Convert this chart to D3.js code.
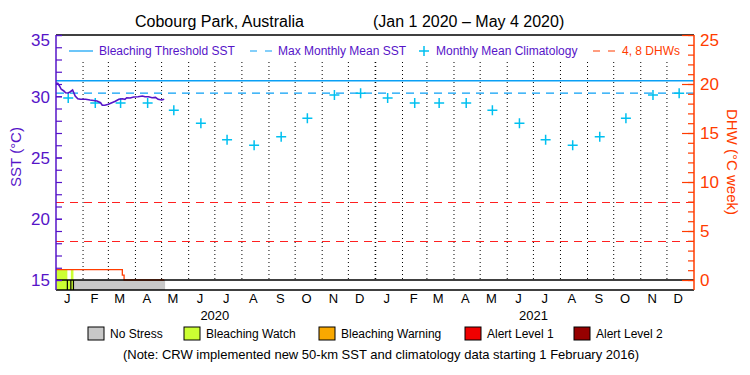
<!DOCTYPE html>
<html>
<head>
<meta charset="utf-8">
<script src="https://cdn.jsdelivr.net/npm/d3@7"></script>
<style>
  body { margin: 0; background: #fff; }
  svg { display: block; font-family: "Liberation Sans", Arial, sans-serif; }
</style>
</head>
<body>
<div id="chart"></div>
<script>
// --------------------------------------
//  Data
// --------------------------------------

const sstDates = ["2020-01-01","2020-01-03","2020-01-05","2020-01-07","2020-01-10","2020-01-12",
  "2020-01-15","2020-01-17","2020-01-20","2020-01-21","2020-01-23","2020-01-26","2020-01-29",
  "2020-02-04","2020-02-09","2020-02-17","2020-02-21","2020-02-23","2020-02-26","2020-03-01",
  "2020-03-05","2020-03-09","2020-03-13","2020-03-17","2020-03-20","2020-03-22","2020-03-26",
  "2020-03-30","2020-04-04","2020-04-09","2020-04-12","2020-04-16","2020-04-20","2020-04-24",
  "2020-04-27","2020-05-01","2020-05-04"];
const sstValues = [31.06,31.06,30.84,30.57,30.43,30.29,30.27,30.35,30.51,30.35,30.02,29.80,29.75,
  29.75,29.69,29.61,29.47,29.26,29.26,29.34,29.47,29.59,29.75,29.80,29.75,29.88,29.86,
  29.94,29.96,30.02,29.96,29.96,29.88,29.91,29.75,29.69,29.75];

const monthLetters = ["J","F","M","A","M","J","J","A","S","O","N","D"];
const climValues = [29.85,29.45,29.45,29.45,28.85,27.80,26.45,26.00,26.70,28.20,30.10,30.25];
const years = [2020, 2021];

const mmm = 30.26;
const bleachingThreshold = 31.26;
const dhwLevels = [4, 8];

const dhwDates = ["2020-01-01","2020-03-17","2020-03-19","2020-05-04"];
const dhwValues = [1.05, 0.5, 0, 0];

const stressStart = ["2020-01-01","2020-01-14","2020-01-18","2020-01-21"];
const stressEnd   = ["2020-01-14","2020-01-18","2020-01-21","2020-05-05"];
const stressLevel = [1, 1, 1, 0];
const hotSpot     = [true, false, true, false];

const stressNames  = ["No Stress","Bleaching Watch","Bleaching Warning","Alert Level 1","Alert Level 2"];
const stressColors = ["#c8c8c8","#ccff33","#f9a800","#f00000","#960000"];

const sstTicks = [15, 20, 25, 30, 35];
const dhwTicks = [0, 5, 10, 15, 20, 25];

// --------------------------------------
//  Canvas
// --------------------------------------

const width = 750, height = 375;
const pLeft = 56, pRight = 694, pTop = 35, pBottom = 280, stripBottom = 290;

const purple = "#5614c8", red = "#ff3c00", blue = "#0aa0f5", cyan = "#00c0f0";

const svg = d3.select("#chart")
  .append("svg")
    .attr("width", width)
    .attr("height", height);

const parse = d3.timeParse("%Y-%m-%d");

// --------------------------------------
//  Scales
// --------------------------------------

const x = d3.scaleTime()
  .domain([new Date(2020, 0, 1), new Date(2022, 0, 1)])
  .range([pLeft, pRight]);

const y = d3.scaleLinear().domain([15, 35]).range([pBottom, pTop]);
const yDhw = d3.scaleLinear().domain([0, 25]).range([pBottom, pTop]);

// --------------------------------------
//  Title
// --------------------------------------

svg.append("text").attr("x", 135).attr("y", 27)
  .style("font-size", "16px").text("Cobourg Park, Australia");
svg.append("text").attr("x", 373).attr("y", 27)
  .style("font-size", "16px").text("(Jan 1 2020 – May 4 2020)");

// --------------------------------------
//  Month grid
// --------------------------------------

const monthStarts = d3.timeMonth.range(new Date(2020, 1, 1), new Date(2022, 0, 1));

svg.append("g")
  .selectAll("line")
  .data(monthStarts)
  .join("line")
    .attr("x1", d => x(d)).attr("x2", d => x(d))
    .attr("y1", 62).attr("y2", pBottom)
    .attr("stroke", "#000")
    .attr("stroke-width", d => d.getMonth() === 0 ? 1.6 : 1)
    .attr("stroke-dasharray", "1,3");

// --------------------------------------
//  Reference lines
// --------------------------------------

svg.append("line")
  .attr("x1", pLeft).attr("x2", pRight)
  .attr("y1", y(bleachingThreshold)).attr("y2", y(bleachingThreshold))
  .attr("stroke", blue).attr("stroke-width", 1.5);

svg.append("line")
  .attr("x1", pLeft).attr("x2", pRight)
  .attr("y1", y(mmm)).attr("y2", y(mmm))
  .attr("stroke", blue).attr("stroke-width", 1.3)
  .attr("stroke-dasharray", "8,6");

svg.append("g")
  .selectAll("line")
  .data(dhwLevels)
  .join("line")
    .attr("x1", pLeft).attr("x2", pRight)
    .attr("y1", d => Math.round(yDhw(d)) + 0.5).attr("y2", d => Math.round(yDhw(d)) + 0.5)
    .attr("stroke", "#ff2020").attr("stroke-width", 1.2)
    .attr("stroke-dasharray", "8,6");

// --------------------------------------
//  Climatology
// --------------------------------------

const clim = years.flatMap(yr => climValues.map((v, i) => ({date: new Date(yr, i, 15), v})));

svg.append("g")
  .selectAll("path")
  .data(clim)
  .join("path")
    .attr("transform", d => `translate(${x(d.date)},${y(d.v)})`)
    .attr("d", "M-5,0H5M0,-5V5")
    .attr("stroke", cyan).attr("stroke-width", 1.5);

// --------------------------------------
//  Stress strip
// --------------------------------------

const stress = stressStart.map((s, i) => ({
  start: parse(s), end: parse(stressEnd[i]), level: stressLevel[i], hot: hotSpot[i]
}));

svg.append("g")
  .selectAll("rect")
  .data(stress)
  .join("rect")
    .attr("x", d => x(d.start))
    .attr("width", d => x(d.end) - x(d.start))
    .attr("y", d => d.hot ? yDhw(1.05) : pBottom)
    .attr("height", d => stripBottom - (d.hot ? yDhw(1.05) : pBottom))
    .attr("fill", d => stressColors[d.level]);

svg.append("g")
  .selectAll("line")
  .data(stress.slice(1))
  .join("line")
    .attr("x1", d => x(d.start)).attr("x2", d => x(d.start))
    .attr("y1", pBottom).attr("y2", stripBottom)
    .attr("stroke", "#000").attr("stroke-width", 1.2);

// --------------------------------------
//  DHW and SST lines
// --------------------------------------

const dhw = dhwDates.map((d, i) => ({date: parse(d), v: dhwValues[i]}));

svg.append("path")
  .datum(dhw)
  .attr("fill", "none")
  .attr("stroke", red).attr("stroke-width", 1.3)
  .attr("d", d3.line().curve(d3.curveStepAfter).x(d => x(d.date)).y(d => yDhw(d.v)));

const sst = sstDates.map((d, i) => ({date: parse(d), v: sstValues[i]}));

svg.append("path")
  .datum(sst)
  .attr("fill", "none")
  .attr("stroke", purple).attr("stroke-width", 1.6)
  .attr("d", d3.line().x(d => x(d.date)).y(d => y(d.v)));

// --------------------------------------
//  Frame
// --------------------------------------

[pTop, pBottom, stripBottom].forEach(yy =>
  svg.append("line").attr("x1", pLeft).attr("x2", pRight)
    .attr("y1", yy).attr("y2", yy).attr("stroke", "#000").attr("stroke-width", 1.6));

svg.append("line").attr("x1", pLeft).attr("x2", pLeft)
  .attr("y1", pTop).attr("y2", stripBottom).attr("stroke", purple).attr("stroke-width", 1.5);
svg.append("line").attr("x1", pRight).attr("x2", pRight)
  .attr("y1", pTop).attr("y2", stripBottom).attr("stroke", red).attr("stroke-width", 1.5);

// --------------------------------------
//  Axes
// --------------------------------------

const leftMinor = svg.append("g").attr("transform", `translate(${pLeft},0)`)
  .call(d3.axisLeft(y).tickValues(d3.range(15, 36)).tickSize(-6).tickSizeOuter(0).tickFormat(""));
const leftMajor = svg.append("g").attr("transform", `translate(${pLeft},0)`)
  .call(d3.axisLeft(y).tickValues(sstTicks).tickSize(-6).tickSizeOuter(0).tickPadding(6));

const rightMinor = svg.append("g").attr("transform", `translate(${pRight},0)`)
  .call(d3.axisRight(yDhw).tickValues(d3.range(0, 26)).tickSize(-6).tickSizeOuter(0).tickFormat(""));
const rightMajor = svg.append("g").attr("transform", `translate(${pRight},0)`)
  .call(d3.axisRight(yDhw).tickValues(dhwTicks).tickSize(-12).tickSizeOuter(0).tickPadding(6));

[leftMinor, leftMajor].forEach(g => {
  g.select(".domain").remove();
  g.selectAll("line").attr("stroke", purple).attr("stroke-width", 1.2);
});
[rightMinor, rightMajor].forEach(g => {
  g.select(".domain").remove();
  g.selectAll("line").attr("stroke", red).attr("stroke-width", 1.2);
});

leftMajor.selectAll("text")
  .attr("fill", purple).style("font-size", "17px").style("font-family", "inherit")
  .attr("dy", d => d === 35 ? "0.62em" : "0.35em");
rightMajor.selectAll("text")
  .attr("fill", red).style("font-size", "17px").style("font-family", "inherit")
  .attr("dy", d => d === 25 ? "0.62em" : "0.35em");

svg.append("text")
  .attr("transform", `translate(21,157) rotate(-90)`)
  .attr("text-anchor", "middle")
  .attr("fill", purple).style("font-size", "15px")
  .text("SST (°C)");

svg.append("text")
  .attr("transform", `translate(727,162) rotate(90)`)
  .attr("text-anchor", "middle")
  .attr("fill", red).style("font-size", "15px")
  .text("DHW (°C week)");

// month and year labels
const monthMids = years.flatMap(yr => monthLetters.map((m, i) => ({date: new Date(yr, i, 14), m})));

svg.append("g")
  .selectAll("text")
  .data(monthMids)
  .join("text")
    .attr("x", d => x(d.date)).attr("y", 303)
    .attr("text-anchor", "middle")
    .style("font-size", "13px")
    .text(d => d.m);

svg.append("g")
  .selectAll("text")
  .data(years)
  .join("text")
    .attr("x", d => x(new Date(d, 6, 1))).attr("y", 320)
    .attr("text-anchor", "middle")
    .style("font-size", "13px")
    .text(d => d);

// --------------------------------------
//  Top legend
// --------------------------------------

const lg = svg.append("g").style("font-size", "12px");
const ly = 51;

lg.append("line").attr("x1", 69).attr("x2", 93).attr("y1", ly).attr("y2", ly)
  .attr("stroke", blue).attr("stroke-width", 1.2);
lg.append("text").attr("x", 99).attr("y", ly + 4).attr("fill", purple).text("Bleaching Threshold SST");

lg.append("line").attr("x1", 250).attr("x2", 272).attr("y1", ly).attr("y2", ly)
  .attr("stroke", blue).attr("stroke-width", 1.2).attr("stroke-dasharray", "7,8");
lg.append("text").attr("x", 278).attr("y", ly + 4).attr("fill", purple).text("Max Monthly Mean SST");

lg.append("path").attr("transform", `translate(424,${ly})`).attr("d", "M-5,0H5M0,-5V5")
  .attr("stroke", cyan).attr("stroke-width", 1.5);
lg.append("text").attr("x", 436).attr("y", ly + 4).attr("fill", purple).text("Monthly Mean Climatology");

lg.append("line").attr("x1", 593).attr("x2", 616).attr("y1", ly).attr("y2", ly)
  .attr("stroke", red).attr("stroke-width", 1.2).attr("stroke-dasharray", "7,8");
lg.append("text").attr("x", 622).attr("y", ly + 4).attr("fill", red).text("4, 8 DHWs");

// --------------------------------------
//  Stress legend
// --------------------------------------

const boxX = [88, 184, 319, 465, 574];

const sl = svg.append("g").style("font-size", "12px");
stressNames.forEach((name, i) => {
  sl.append("rect").attr("x", boxX[i]).attr("y", 327).attr("width", 16).attr("height", 13)
    .attr("fill", stressColors[i]).attr("stroke", "#000").attr("stroke-width", 1);
  sl.append("text").attr("x", boxX[i] + 22).attr("y", 338).text(name);
});

svg.append("text")
  .attr("x", 381).attr("y", 359)
  .attr("text-anchor", "middle")
  .style("font-size", "13px")
  .text("(Note: CRW implemented new 50-km SST and climatology data starting 1 February 2016)");
</script>
</body>
</html>
